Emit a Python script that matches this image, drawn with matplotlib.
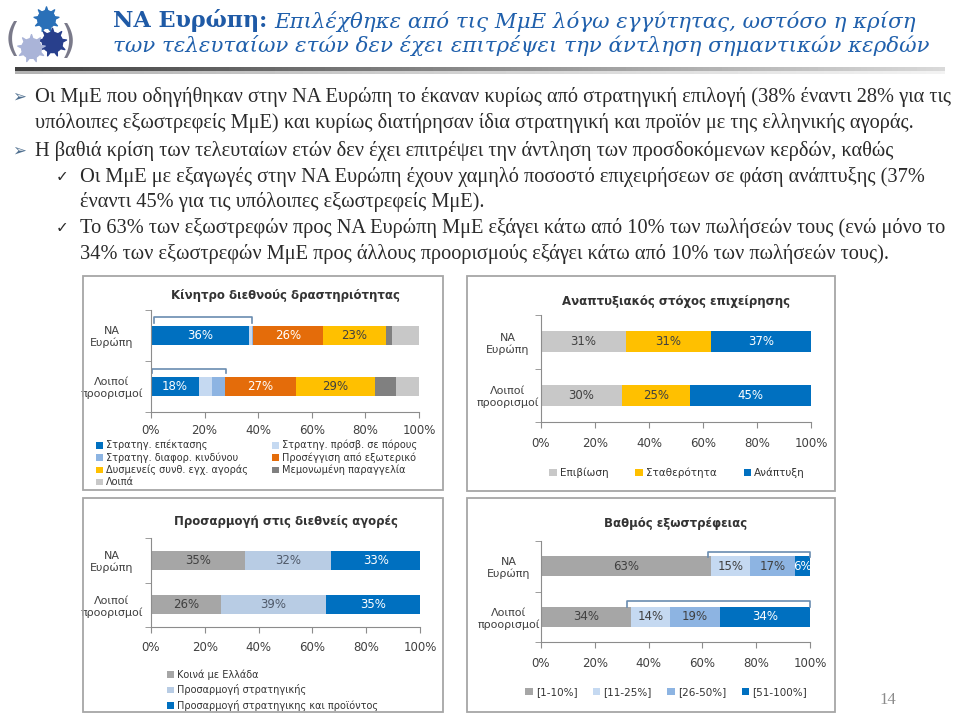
import numpy as np
import matplotlib
matplotlib.use("Agg")
import matplotlib.pyplot as plt
from matplotlib.patches import Rectangle

W, H = 960, 715
plt.rcParams['font.family'] = ['DejaVu Sans']

categories = ["NA\nΕυρώπη", "Λοιποί\nπροορισμοί"]
pct_ticks = [0, 20, 40, 60, 80, 100]

# Κίνητρο διεθνούς δραστηριότητας
motive_names = ["Στρατηγ. επέκτασης", "Στρατηγ. πρόσβ. σε πόρους", "Στρατηγ. διαφορ. κινδύνου",
                "Προσέγγιση από εξωτερικό", "Δυσμενείς συνθ. εγχ. αγοράς", "Μεμονωμένη παραγγελία", "Λοιπά"]
motive_na = [36.4, 1.2, 0.3, 26.4, 23.3, 2.5, 9.9]
motive_other = [17.9, 4.7, 5.0, 26.6, 29.4, 7.9, 8.5]

# Αναπτυξιακός στόχος επιχείρησης
goal_names = ["Επιβίωση", "Σταθερότητα", "Ανάπτυξη"]
goal_na = [31.4, 31.4, 37.2]
goal_other = [30.0, 25.2, 44.8]

# Προσαρμογή στις διεθνείς αγορές
adapt_names = ["Κοινά με Ελλάδα", "Προσαρμογή στρατηγικής", "Προσαρμογή στρατηγικης και προϊόντος"]
adapt_na = [35, 32, 33]
adapt_other = [26, 39, 35]

# Βαθμός εξωστρέφειας
export_names = ["[1-10%]", "[11-25%]", "[26-50%]", "[51-100%]"]
export_na = [63.2, 14.6, 16.6, 5.6]
export_other = [33.6, 14.2, 18.6, 33.6]

BLUE, LBLUE, MBLUE = "#0070c0", "#c5d9f1", "#8db4e2"
ORANGE, YELLOW = "#e46c0a", "#ffc000"
DGRAY, LGRAY, MGRAY = "#808080", "#c8c8c8", "#a6a6a6"
TXT = "#404040"
AXC = "#8c8c8c"

fig = plt.figure(figsize=(W / 100, H / 100), dpi=100)
fig.patch.set_facecolor("white")

deco = fig.add_axes([0, 0, 1, 1])
deco.set_xlim(0, W)
deco.set_ylim(H, 0)
deco.axis("off")

# underline of the slide title, dark to light
grad = np.linspace(0.25, 0.85, 300).reshape(1, -1)
deco.imshow(grad, cmap="gray", vmin=0, vmax=1, aspect="auto", extent=(15, 945, 71, 67))
deco.imshow(np.linspace(0.7, 0.95, 300).reshape(1, -1), cmap="gray", vmin=0, vmax=1,
            aspect="auto", extent=(15, 945, 74, 71))

# logo: three gears in brackets
deco.scatter([46], [19], s=330, marker=(9, 1, 0), color="#2a70b8", zorder=3)
deco.scatter([46], [19], s=160, marker="o", color="#2a70b8", zorder=3)
deco.scatter([52], [42], s=420, marker=(9, 1, 0), color="#283f8c", zorder=3)
deco.scatter([52], [42], s=210, marker="o", color="#283f8c", zorder=3)
deco.scatter([31], [48], s=400, marker=(9, 1, 0), color="#aab4d8", zorder=4)
deco.scatter([31], [48], s=200, marker="o", color="#aab4d8", zorder=4)
deco.text(12, 40, "(", fontsize=28, color="#7a7a8a", ha="center", va="center")
deco.text(68, 42, ")", fontsize=28, color="#7a7a8a", ha="center", va="center")

# slide title
t1 = fig.text(113 / W, 1 - 21 / H, "NA Ευρώπη:", fontsize=16, fontweight="bold",
              family="DejaVu Serif", color="#1f5aa6", va="center")
fig.canvas.draw()
bb = t1.get_window_extent()
fig.text((bb.x1 + 7) / W, 1 - 21 / H, "Επιλέχθηκε από τις ΜμΕ λόγω εγγύτητας, ωστόσο η κρίση",
         fontsize=15.4, style="italic", family="DejaVu Serif", color="#2060ac", va="center")
fig.text(113 / W, 1 - 46 / H, "των τελευταίων ετών δεν έχει επιτρέψει την άντληση σημαντικών κερδών",
         fontsize=15.4, style="italic", family="DejaVu Serif", color="#2060ac", va="center")

# bullet text
body = dict(fontsize=14.7, family="Liberation Serif", color="#2a2a2a", va="center")
lines = [
    (35, 97, "Οι ΜμΕ που οδηγήθηκαν στην ΝΑ Ευρώπη το έκαναν κυρίως από στρατηγική επιλογή (38% έναντι 28% για τις"),
    (35, 123, "υπόλοιπες εξωστρεφείς ΜμΕ) και κυρίως διατήρησαν ίδια στρατηγική και προϊόν με της ελληνικής αγοράς."),
    (35, 151, "Η βαθιά κρίση των τελευταίων ετών δεν έχει επιτρέψει την άντληση των προσδοκόμενων κερδών, καθώς"),
    (80, 177, "Οι ΜμΕ με εξαγωγές στην ΝΑ Ευρώπη έχουν χαμηλό ποσοστό επιχειρήσεων σε φάση ανάπτυξης (37%"),
    (80, 202, "έναντι 45% για τις υπόλοιπες εξωστρεφείς ΜμΕ)."),
    (80, 228, "Το 63% των εξωστρεφών προς ΝΑ Ευρώπη ΜμΕ εξάγει κάτω από 10% των πωλήσεών τους (ενώ μόνο το"),
    (80, 254, "34% των εξωστρεφών ΜμΕ προς άλλους προορισμούς εξάγει κάτω από 10% των πωλήσεών τους)."),
]
for x, y, s in lines:
    fig.text(x / W, 1 - y / H, s, **body)
for y in (97, 151):
    fig.text(12 / W, 1 - y / H, "➢", fontsize=12, color="#4f6f8f", va="center")
for y in (177, 228):
    fig.text(56 / W, 1 - y / H, "✓", fontsize=11, color="#2a2a2a", va="center")

# panel frames
for x0, y0, x1, y1 in [(83, 276, 443, 490), (467, 276, 835, 491), (83, 498, 443, 712), (467, 498, 835, 712)]:
    fig.patches.append(Rectangle((x0 / W, 1 - y1 / H), (x1 - x0) / W, (y1 - y0) / H,
                                 transform=fig.transFigure, fill=False, edgecolor="#a6a6a6", lw=1.3))

fig.text(888 / W, 1 - 700 / H, "14", fontsize=12, family="Liberation Serif", color="#8c8c8c", ha="center", va="center")


def stacked(px, title, title_y, names, na, other, colors, txtcolors, labelled, bar_h, label_off, xpad):
    x0, x1, y0, y1 = px
    ax = fig.add_axes([x0 / W, 1 - y1 / H, (x1 - x0) / W, (y1 - y0) / H])
    ypos = [1, 0]
    data = np.array([na, other])
    left = np.zeros(2)
    handles = []
    for i, name in enumerate(names):
        vals = data[:, i]
        bars = ax.barh(ypos, vals, left=left, height=bar_h, color=colors[i], label=name)
        handles.append(bars)
        if i in labelled:
            for yy, v, l in zip(ypos, vals, left):
                ax.text(l + v / 2, yy, f"{v:.0f}%", ha="center", va="center", fontsize=8.5, color=txtcolors[i])
        left += vals
    ax.set_xlim(0, 100)
    ax.set_ylim(-0.5, 1.5)
    ax.set_xticks(pct_ticks)
    ax.set_xticklabels([f"{t}%" for t in pct_ticks])
    ax.set_yticks(ypos)
    ax.set_yticklabels(categories, multialignment="center", ha="center")
    ax.set_yticks([-0.5, 0.5, 1.5], minor=True)
    ax.tick_params(axis="y", which="major", length=0, pad=label_off * 0.72, labelsize=8, labelcolor=TXT)
    ax.tick_params(axis="y", which="minor", length=4, color=AXC)
    ax.tick_params(axis="x", length=4, color=AXC, labelsize=8.5, labelcolor=TXT, pad=xpad)
    for s in ("top", "right"):
        ax.spines[s].set_visible(False)
    for s in ("left", "bottom"):
        ax.spines[s].set_color(AXC)
    fig.text((x0 + x1) / 2 / W, 1 - title_y / H, title, fontsize=8.5, fontweight="bold",
             color="#333333", ha="center", va="center")
    return ax, handles


def bracket(ax, xa, xb, ytop, yleg):
    ax.plot([xa, xa, xb, xb], [yleg, ytop, ytop, yleg], color="#6a8cb0", lw=1.2, clip_on=False)


leg_kw = dict(frameon=False, fontsize=7, handlelength=0.7, handleheight=0.7, handletextpad=0.3,
              borderpad=0, borderaxespad=0, labelcolor="#333333")

# chart 1
ax1, h1 = stacked((151, 419, 310, 412), "Κίνητρο διεθνούς δραστηριότητας", 295, motive_names,
                  motive_na, motive_other, [BLUE, LBLUE, MBLUE, ORANGE, YELLOW, DGRAY, LGRAY],
                  ["white", TXT, TXT, "white", TXT, TXT, TXT], [0, 3, 4], 0.38, 39, 4.5)
bracket(ax1, 1, 37.6, 1.36, 1.25)
bracket(ax1, 0.3, 28, 0.35, 0.27)
order = [0, 2, 4, 6, 1, 3, 5]
fig.legend([h1[i] for i in order], [motive_names[i] for i in order], loc="upper left",
           bbox_to_anchor=(96 / W, 1 - 440 / H), ncol=2, labelspacing=0.2, columnspacing=2.5, **leg_kw)

# chart 2
ax2, h2 = stacked((541, 811, 315, 422), "Αναπτυξιακός στόχος επιχείρησης", 301, goal_names,
                  goal_na, goal_other, [LGRAY, YELLOW, BLUE], [TXT, TXT, "white"], [0, 1, 2], 0.4, 33, 7)
fig.legend(h2, goal_names, loc="center", bbox_to_anchor=(677 / W, 1 - 473 / H), ncol=3,
           columnspacing=2.6, **dict(leg_kw, fontsize=7.5))

# chart 3
ax3, h3 = stacked((151, 420, 538, 627), "Προσαρμογή στις διεθνείς αγορές", 521, adapt_names,
                  adapt_na, adapt_other, [MGRAY, "#b8cce4", BLUE], [TXT, "#505a6a", "white"], [0, 1, 2], 0.42, 39, 6)
fig.legend(h3, adapt_names, loc="upper left", bbox_to_anchor=(167 / W, 1 - 669 / H), ncol=1,
           labelspacing=0.5, **leg_kw)

# chart 4
ax4, h4 = stacked((541, 810, 541, 642), "Βαθμός εξωστρέφειας", 523, export_names,
                  export_na, export_other, [MGRAY, LBLUE, MBLUE, BLUE], [TXT, TXT, TXT, "white"], [0, 1, 2, 3], 0.4, 32, 7)
bracket(ax4, 62, 100, 1.28, 1.18)
bracket(ax4, 32, 100, 0.32, 0.2)
fig.legend(h4, export_names, loc="center", bbox_to_anchor=(666 / W, 1 - 692 / H), ncol=4,
           columnspacing=1.5, **dict(leg_kw, fontsize=7.5))

fig.savefig("out.png", dpi=100)
